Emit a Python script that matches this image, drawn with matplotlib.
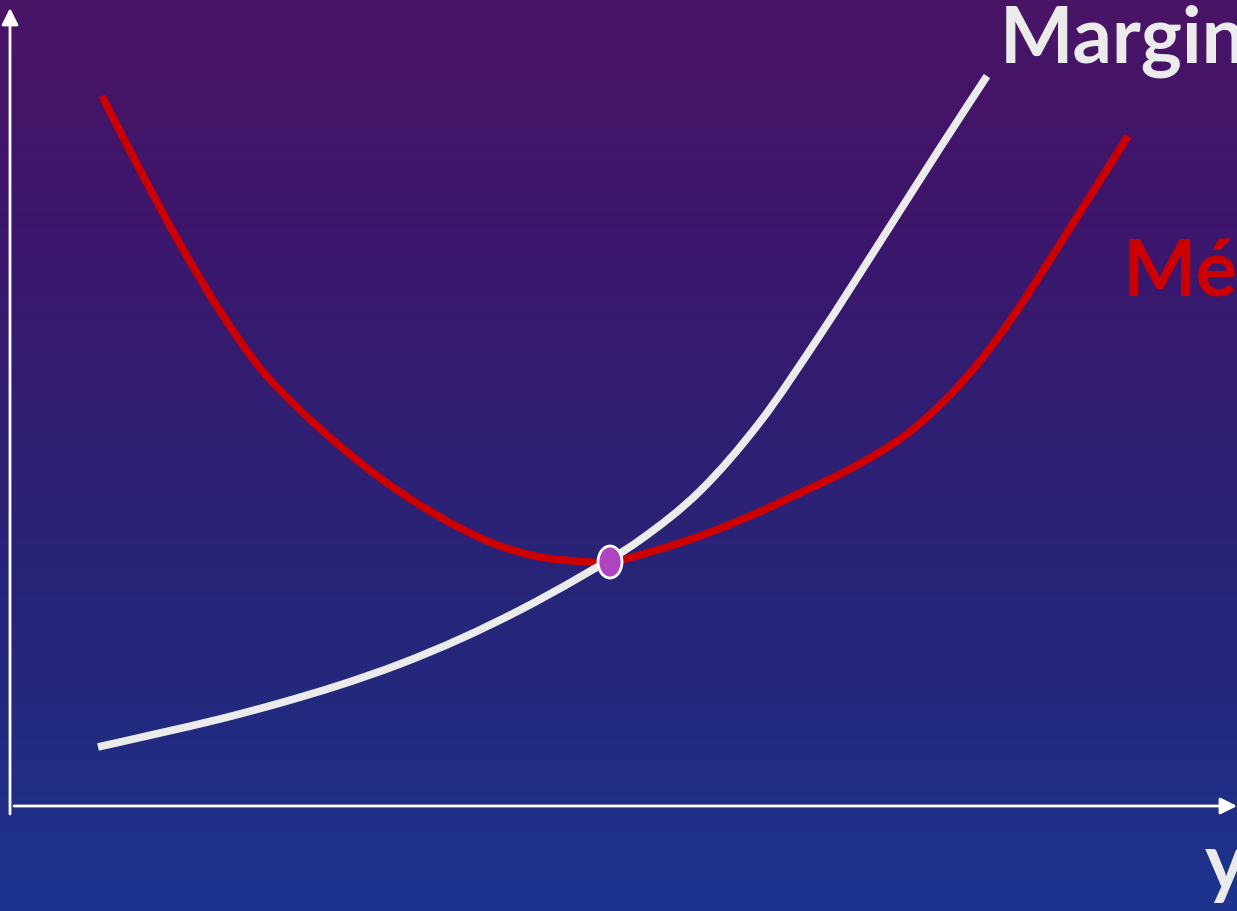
import numpy as np
import matplotlib.pyplot as plt
from matplotlib.patches import Ellipse, PathPatch
from matplotlib.path import Path


# Custo marginal (curva branca)
q_marg = [0.88, 1.50, 2.10, 2.70, 3.30, 3.90, 4.50, 5.10, 5.70, 6.30, 6.90, 7.50, 8.10,
          8.70, 9.30, 9.77]
c_marg = [0.59, 0.73, 0.87, 1.03, 1.21, 1.42, 1.67, 1.96, 2.29, 2.66, 3.15, 3.84, 4.71,
          5.64, 6.58, 7.30]

# Custo médio (curva vermelha)
q_medio = [0.92, 1.30, 1.70, 2.10, 2.50, 2.90, 3.30, 3.70, 4.10, 4.50, 4.90, 5.30, 5.65,
           6.00, 6.40, 6.90, 7.40, 7.90, 8.40, 8.90, 9.30, 9.70, 10.10, 10.60, 11.18]
c_medio = [7.10, 6.36, 5.62, 4.95, 4.38, 3.96, 3.60, 3.28, 3.01, 2.78, 2.60, 2.49, 2.45,
           2.44, 2.54, 2.70, 2.90, 3.13, 3.37, 3.67, 4.01, 4.45, 5.00, 5.78, 6.70]

# ponto de mínimo do custo médio
q_min = 6.00
c_min = 2.44


# curva suave (Catmull-Rom -> Bézier cúbica) passando pelos pontos
def curva_suave(xs, ys):
    pts = np.column_stack([xs, ys])
    n = len(pts)
    verts = [pts[0]]
    codes = [Path.MOVETO]
    for i in range(n - 1):
        p0 = pts[max(i - 1, 0)]
        p1 = pts[i]
        p2 = pts[i + 1]
        p3 = pts[min(i + 2, n - 1)]
        verts += [p1 + (p2 - p0) / 6, p2 - (p3 - p1) / 6, p2]
        codes += [Path.CURVE4] * 3
    return Path(verts, codes)


fig = plt.figure(figsize=(12.37, 9.11), dpi=100)
ax = fig.add_axes([0, 0, 1, 1])
ax.set_xlim(-0.10, 12.27)
ax.set_ylim(-1.05, 8.06)
ax.axis("off")

# fundo em degradê roxo -> azul
cores = np.array([[74, 20, 102], [60, 22, 108], [46, 32, 116], [36, 40, 124], [29, 52, 142]]) / 255
pos = np.linspace(0, 1, len(cores))
t = np.linspace(0, 1, 400)
grad = np.stack([np.interp(t, pos, cores[:, k]) for k in range(3)], axis=1)
grad = np.repeat(grad[:, None, :], 2, axis=1)
ax.imshow(grad, extent=(-0.10, 12.27, -1.05, 8.06), origin="upper", aspect="auto", zorder=0)

# eixos com setas
seta = dict(arrowstyle="-|>", color="white", lw=2, mutation_scale=25, shrinkA=0, shrinkB=0)
ax.annotate("", xy=(0, 7.98), xytext=(0, -0.08), arrowprops=seta, zorder=2)
ax.annotate("", xy=(12.27, 0), xytext=(0.04, 0), arrowprops=seta, zorder=2)

# curvas
ax.add_patch(PathPatch(curva_suave(q_medio, c_medio), fill=False, edgecolor="#cc0000",
                       lw=5.5, capstyle="butt", zorder=3))
ax.add_patch(PathPatch(curva_suave(q_marg, c_marg), fill=False, edgecolor="#ebebeb",
                       lw=5.5, capstyle="butt", zorder=4))

ax.add_patch(Ellipse((q_min, c_min), 0.24, 0.32, facecolor="#b044c0",
                     edgecolor="white", lw=2, zorder=5))

# rótulos
fonte = dict(family=["Lato", "DejaVu Sans"], fontweight="bold", fontsize=56)
ax.text(9.90, 7.43, "Marginal", color="#ebebeb", va="baseline", **fonte)
ax.text(11.13, 5.11, "Médio", color="#cc0000", va="baseline", **fonte)
ax.text(11.95, -0.83, "y", color="#ebebeb", va="baseline", **fonte)

fig.savefig("out.png", dpi=100)
